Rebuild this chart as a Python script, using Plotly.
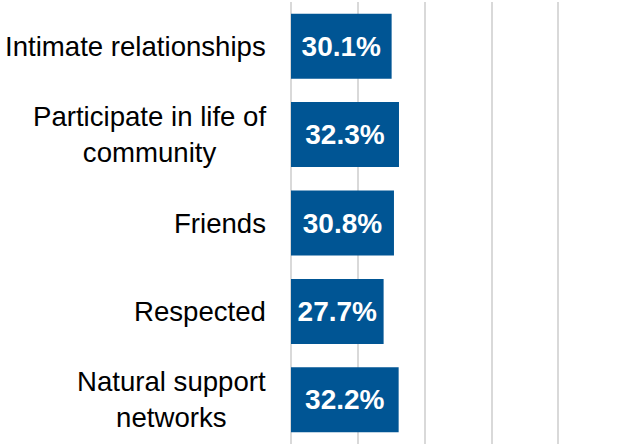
import plotly.graph_objects as go

# Survey outcome categories and share of respondents (%)
categories = [
    "Intimate relationships",
    "Participate in life of<br>community",
    "Friends",
    "Respected",
    "Natural support<br>networks",
]
values = [30.1, 32.3, 30.8, 27.7, 32.2]
x_ticks = [0, 20, 40, 60, 80, 100]

BAR_COLOR = "#005594"
GRID_COLOR = "#d9d9d9"
FONT = "Liberation Sans, Arial, sans-serif"

fig = go.Figure(
    go.Bar(
        x=values,
        y=list(range(len(categories))),
        orientation="h",
        marker=dict(color=BAR_COLOR, line=dict(width=0)),
        text=[f"{v:.1f}%" for v in values],
        textposition="inside",
        insidetextanchor="middle",
        textangle=0,
        textfont=dict(family=FONT, size=28, color="white", weight="bold"),
        hoverinfo="skip",
    )
)

# Category labels, centred line by line, to the left of the axis
for i, label in enumerate(categories):
    fig.add_annotation(
        x=0, xref="paper", xanchor="right", xshift=-23,
        y=i, yref="y", yanchor="middle",
        text=label, align="center", showarrow=False,
        font=dict(family=FONT, size=27.6, color="#000000"),
    )

fig.update_layout(
    width=626,
    height=444,
    margin=dict(l=291, r=0, t=2, b=0),
    paper_bgcolor="white",
    plot_bgcolor="white",
    bargap=0.265,
    showlegend=False,
    xaxis=dict(
        range=[0, 100.2],
        tickvals=x_ticks,
        showticklabels=False,
        showgrid=True,
        gridcolor=GRID_COLOR,
        gridwidth=2,
        zeroline=True,
        zerolinecolor=GRID_COLOR,
        zerolinewidth=2,
        showline=False,
        fixedrange=True,
    ),
    yaxis=dict(
        range=[len(categories) - 0.5, -0.5],
        showticklabels=False,
        showgrid=False,
        zeroline=False,
        showline=False,
        fixedrange=True,
    ),
)

fig.write_html("out.html")
